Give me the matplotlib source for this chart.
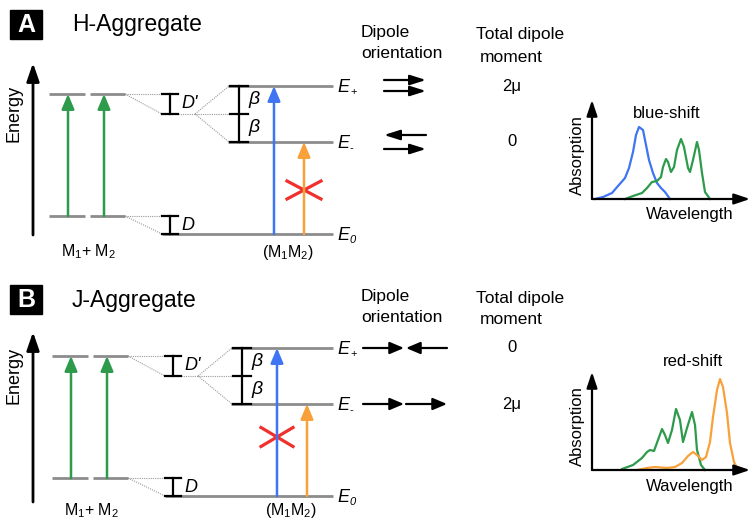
import matplotlib.pyplot as plt
from matplotlib.patches import Rectangle

plt.rcParams['font.family'] = 'Liberation Sans'
plt.rcParams['mathtext.fontset'] = 'custom'
plt.rcParams['mathtext.rm'] = 'Liberation Sans'
plt.rcParams['mathtext.it'] = 'Liberation Sans:italic'

GRAY = '#8c8c8c'
DOT = '#9a9a9a'
GREEN = '#2e9a4b'
BLUE = '#3f74f2'
ORANGE = '#f8a13a'
RED = '#f0302c'

# energies measured from the aggregate ground state E0
E_MONO_GROUND = 18
E_MONO_EXC = 140
E_SPLIT_CENTER = 120   # monomer excitation lowered by D'
BETA = 28

panel_letters = ['A', 'B']
panel_titles = ['H-Aggregate', 'J-Aggregate']
moment_labels = [['2μ', '0'], ['0', '2μ']]
shift_labels = ['blue-shift', 'red-shift']

# absorption spectra (wavelength, absorbance) in arbitrary units
h_blue_x = [3, 11, 20, 26, 33, 37, 41, 44, 47, 51, 54, 57, 61, 65, 69, 73, 78]
h_blue_y = [0, 2, 6, 13, 21, 31, 47, 64, 72, 69, 54, 39, 26, 16, 11, 7, 0]
h_green_x = [33, 41, 50, 55, 60, 65, 69, 71, 74, 76, 79, 82, 85, 89, 92, 96, 98,
             101, 105, 107, 110, 113, 118]
h_green_y = [0, 3, 6, 11, 17, 18, 22, 32, 40, 37, 27, 32, 49, 60, 52, 31, 27,
             39, 57, 49, 26, 7, 0]
j_green_x = [30, 41, 50, 55, 58, 62, 66, 70, 73, 76, 80, 84, 88, 91, 95, 100,
             103, 105, 109, 113]
j_green_y = [1, 5, 12, 18, 20, 19, 30, 41, 35, 27, 40, 61, 50, 28, 42, 58,
             45, 20, 5, 0]
j_orange_x = [45, 55, 63, 75, 83, 90, 96, 101, 105, 110, 114, 118, 121, 125,
              128, 131, 135, 138, 142, 146]
j_orange_y = [0, 2, 3, 2, 3, 7, 14, 18, 15, 10, 13, 28, 53, 80, 91, 83, 57,
              27, 8, 0]

spectra = [
    [(h_blue_x, h_blue_y, BLUE), (h_green_x, h_green_y, GREEN)],
    [(j_green_x, j_green_y, GREEN), (j_orange_x, j_orange_y, ORANGE)],
]

# page layout (pixels, y downwards)
E0_Y = [234, 496]
DX = [0, 3]
AXIS_SPAN = [(235, 63), (502, 332)]
TOP_Y = [10, 285]
TITLE_Y = [24, 300]
HEAD_Y = [(32, 53), (297, 317)]
TOTAL_Y = [(35, 57), (298, 320)]
LABEL_DY = [18, 15]
SPEC_ORIGIN_Y = [199, 470]
SPEC_H = [99, 98]
CROSS = [(304, 44, 17, 9), (277, 59, 16, 9.5)]

fig = plt.figure(figsize=(7.52, 5.21), dpi=100)
ax = fig.add_axes([0, 0, 1, 1])
ax.set_xlim(0, 752)
ax.set_ylim(521, 0)
ax.axis('off')


def arrow(a, tail, tip, color, lw, hl, hw, ms=10):
    a.annotate('', xy=tip, xytext=tail,
               arrowprops=dict(arrowstyle=f'-|>,head_length={hl},head_width={hw}',
                               color=color, lw=lw, shrinkA=0, shrinkB=0,
                               mutation_scale=ms), annotation_clip=False)


def hline(x0, x1, y, color=GRAY, lw=2.0):
    ax.plot([x0, x1], [y, y], color=color, lw=lw, solid_capstyle='butt')


def dotted(p, q):
    ax.plot([p[0], q[0]], [p[1], q[1]], color=DOT, lw=0.8, ls=(0, (1, 1)))


def bracket(x, ys, half=8):
    ax.plot([x, x], [ys[0], ys[-1]], color='black', lw=1.6)
    for y in ys:
        ax.plot([x - half, x + half], [y, y], color='black', lw=1.6)


def sub_label(x, y, main, sub, sub_italic=False):
    ax.text(x, y, main, fontsize=13, style='italic', va='center', ha='left')
    ax.text(x + 13, y + 5, sub, fontsize=8, va='center', ha='left',
            style='italic' if sub_italic else 'normal')


for i in range(2):
    e0 = E0_Y[i]
    dx = DX[i]

    def Y(e):
        return e0 - e

    y_mg, y_me, y_c = Y(E_MONO_GROUND), Y(E_MONO_EXC), Y(E_SPLIT_CENTER)
    y_p, y_m = Y(E_SPLIT_CENTER + BETA), Y(E_SPLIT_CENTER - BETA)

    # panel letter and title
    ax.add_patch(Rectangle((10, TOP_Y[i]), 32, 29, color='black'))
    ax.text(26, TOP_Y[i] + 15, panel_letters[i], color='white', fontsize=18,
            fontweight='bold', ha='center', va='center')
    ax.text(72, TITLE_Y[i], panel_titles[i], fontsize=16.5, va='center', ha='left')

    # energy axis
    arrow(ax, (33, AXIS_SPAN[i][0]), (33, AXIS_SPAN[i][1]), 'black', 2.0, 1.1, 0.38)
    ax.text(14, Y(121), 'Energy', rotation=90, fontsize=13, ha='center', va='center')

    # monomer levels and transitions
    for x0, x1, xa in [(49, 85, 68), (90, 125, 104)]:
        hline(x0 + dx, x1 + dx, y_me)
        hline(x0 + dx, x1 + dx, y_mg)
        arrow(ax, (xa + dx, y_mg), (xa + dx, y_me), GREEN, 1.8, 0.9, 0.38)
    ax.text(89 + dx, e0 + LABEL_DY[i], r'M$_1$+ M$_2$', fontsize=11.5,
            ha='center', va='center')

    # correlation lines
    dotted((125 + dx, y_me), (162 + dx, y_me))
    dotted((125 + dx, y_me), (162 + dx, y_c))
    dotted((125 + dx, y_mg), (162 + dx, y_mg))
    dotted((125 + dx, y_mg), (162 + dx, e0))
    dotted((178 + dx, y_c), (231 + dx, y_c))
    dotted((195 + dx, y_c), (229 + dx, y_p))
    dotted((195 + dx, y_c), (229 + dx, y_m))

    # dimer levels
    hline(228 + dx, 333, y_p)
    hline(228 + dx, 333, y_m)
    hline(162 + dx, 333, e0)

    bracket(170 + dx, [y_me, y_c])
    bracket(170 + dx, [y_mg, e0])
    bracket(239 + dx, [y_p, y_c, y_m], half=9)
    ax.text(181 + dx, (y_me + y_c) / 2, "D'", fontsize=13, style='italic', va='center')
    ax.text(181 + dx, (y_mg + e0) / 2 + 1, 'D', fontsize=13, style='italic', va='center')
    ax.text(248 + dx, (y_p + y_c) / 2, 'β', fontsize=14, style='italic', va='center')
    ax.text(248 + dx, (y_c + y_m) / 2, 'β', fontsize=14, style='italic', va='center')

    sub_label(337, y_p + 1, 'E', '+')
    sub_label(337, y_m + 1, 'E', '-')
    sub_label(337, e0 + 1, 'E', '0', sub_italic=True)

    # dimer transitions
    arrow(ax, (274 + dx, e0), (274 + dx, y_p), BLUE, 1.8, 0.9, 0.38)
    arrow(ax, (304 + dx, e0), (304 + dx, y_m), ORANGE, 1.8, 0.9, 0.38)
    ax.text(288 + dx, e0 + LABEL_DY[i], r'(M$_1$M$_2$)', fontsize=11.5,
            ha='center', va='center')

    cx, ce, hx, hy = CROSS[i]
    cy = Y(ce)
    ax.plot([cx - hx, cx + hx], [cy - hy, cy + hy], color=RED, lw=2.3)
    ax.plot([cx - hx, cx + hx], [cy + hy, cy - hy], color=RED, lw=2.3)

    # dipole orientation column
    ax.text(361, HEAD_Y[i][0], 'Dipole', fontsize=12.5, va='center', ha='left')
    ax.text(361, HEAD_Y[i][1], 'orientation', fontsize=12.5, va='center', ha='left')
    ax.text(520, TOTAL_Y[i][0], 'Total dipole', fontsize=12.5, va='center', ha='center')
    ax.text(511, TOTAL_Y[i][1], 'moment', fontsize=12.5, va='center', ha='center')

    if i == 0:
        arrow(ax, (384, y_p - 6), (426, y_p - 6), 'black', 1.6, 0.95, 0.3)
        arrow(ax, (384, y_p + 5), (426, y_p + 5), 'black', 1.6, 0.95, 0.3)
        arrow(ax, (426, y_m - 7), (384, y_m - 7), 'black', 1.6, 0.95, 0.3)
        arrow(ax, (384, y_m + 7), (426, y_m + 7), 'black', 1.6, 0.95, 0.3)
    else:
        arrow(ax, (363, y_p), (404, y_p), 'black', 1.6, 0.85, 0.36)
        arrow(ax, (447, y_p), (406, y_p), 'black', 1.6, 0.85, 0.36)
        arrow(ax, (363, y_m), (404, y_m), 'black', 1.6, 0.85, 0.36)
        arrow(ax, (406, y_m), (447, y_m), 'black', 1.6, 0.85, 0.36)

    ax.text(512, y_p, moment_labels[i][0], fontsize=12, ha='center', va='center')
    ax.text(512, y_m, moment_labels[i][1], fontsize=12, ha='center', va='center')

    # absorption spectrum inset
    oy = SPEC_ORIGIN_Y[i]
    sax = fig.add_axes([592 / 752, 1 - oy / 521, 158 / 752, SPEC_H[i] / 521])
    sax.set_xlim(0, 158)
    sax.set_ylim(0, SPEC_H[i])
    sax.axis('off')
    sax.patch.set_alpha(0)
    for xs, ys, c in spectra[i]:
        sax.plot(xs, ys, color=c, lw=1.6, solid_joinstyle='round', clip_on=False)
    arrow(sax, (0, 0), (0, SPEC_H[i]), 'black', 1.6, 0.95, 0.32)
    arrow(sax, (0, 0), (158, 0), 'black', 1.6, 0.95, 0.32)

    ax.text(577, oy - 44, 'Absorption', rotation=90, fontsize=12, ha='center', va='center')
    ax.text(690, oy + 16, 'Wavelength', fontsize=12, ha='center', va='center')

ax.text(667, 113, shift_labels[0], fontsize=12, ha='center', va='center')
ax.text(693, 361, shift_labels[1], fontsize=12, ha='center', va='center')

fig.savefig('out.png', dpi=100)
